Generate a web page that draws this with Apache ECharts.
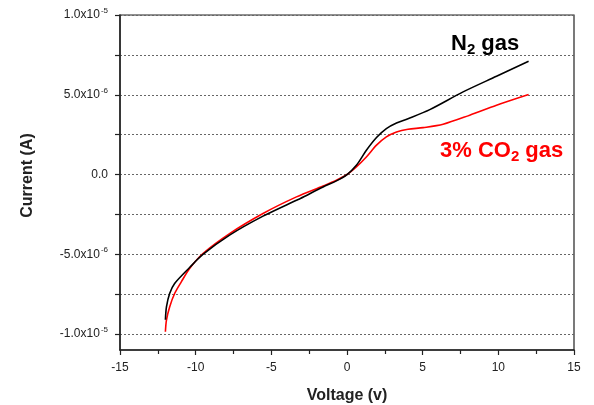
<!DOCTYPE html>
<html>
<head>
<meta charset="utf-8">
<script src="https://cdn.jsdelivr.net/npm/echarts@6/dist/echarts.min.js"></script>
<style>html,body{margin:0;padding:0;background:#fff;}#c{width:594px;height:405px;}</style>
</head>
<body>
<div id="c"></div>
<script>
// Voltage (V) and current (A)
const n2Voltage = [-12, -11.93, -11.72, -11.39, -10.4, -9.52, -7.76, -5.55, -3.34, -3.08, -1.58, -0.7, 0, 0.62, 1.28, 1.95, 2.6, 3.27, 4.03, 5.47, 7.67, 9.88, 12];
const n2Current = [-9.1e-6, -8.3e-6, -7.46e-6, -6.83e-6, -5.83e-6, -5.01e-6, -3.8e-6, -2.61e-6, -1.61e-6, -1.5e-6, -0.78e-6, -0.4e-6, 0, 0.58e-6, 1.52e-6, 2.32e-6, 2.88e-6, 3.23e-6, 3.5e-6, 4.07e-6, 5.18e-6, 6.16e-6, 7.1e-6];
const co2Voltage = [-12, -11.93, -11.72, -11.39, -10.95, -10.4, -9.52, -7.76, -5.55, -3.34, -1.58, -0.7, 0, 0.62, 1.28, 1.95, 2.6, 3.27, 4.03, 5.03, 6.35, 8.11, 9.88, 12];
const co2Current = [-9.86e-6, -9.13e-6, -8.3e-6, -7.46e-6, -6.73e-6, -5.89e-6, -4.95e-6, -3.7e-6, -2.44e-6, -1.4e-6, -0.72e-6, -0.36e-6, 0, 0.48e-6, 1.1e-6, 1.84e-6, 2.36e-6, 2.67e-6, 2.84e-6, 2.94e-6, 3.15e-6, 3.72e-6, 4.34e-6, 5.01e-6];
const yLabelValues = [-1e-5, -5e-6, 0, 5e-6, 1e-5];
const yTickValues = [-1e-5, -7.5e-6, -5e-6, -2.5e-6, 0, 2.5e-6, 5e-6, 7.5e-6, 1e-5];
const seriesNames = ['N2 gas', '3% CO2 gas'];

const zip = (xs, ys) => xs.map((x, i) => [x, ys[i]]);

function fmtY(v) {
  if (Math.abs(v) < 1e-12) return '{a|0.0}';
  const sign = v < 0 ? '-' : '';
  const a = Math.abs(v);
  const e = Math.floor(Math.log10(a) + 1e-9);
  const m = a / Math.pow(10, e);
  return '{a|' + sign + m.toFixed(1) + 'x10}{s|' + e + '}';
}

const chart = echarts.init(document.getElementById('c'));
const font = '"Liberation Sans", Arial, sans-serif';
chart.setOption({
  animation: false,
  backgroundColor: '#fff',
  textStyle: { fontFamily: font },
  grid: { left: 120, right: 20, top: 15, bottom: 55, outerBoundsMode: 'none', containLabel: false, show: true, borderColor: '#222', borderWidth: 1.2, backgroundColor: 'transparent' },
  xAxis: {
    type: 'value', min: -15, max: 15, interval: 5,
    name: 'Voltage (v)', nameLocation: 'middle', nameGap: 38,
    nameTextStyle: { fontSize: 16, fontWeight: 'bold', color: '#222', fontFamily: font },
    axisLine: { show: true, onZero: false, lineStyle: { color: '#222', width: 1.5 } },
    axisTick: { show: true, length: 5, lineStyle: { color: '#222', width: 1.2 } },
    minorTick: { show: true, splitNumber: 2, length: 4, lineStyle: { color: '#222', width: 1.2 } },
    axisLabel: { fontSize: 12, color: '#222', margin: 12, fontFamily: font },
    splitLine: { show: false }
  },
  yAxis: {
    type: 'value', min: -1.1e-5, max: 1e-5,
    name: 'Current (A)', nameLocation: 'middle', nameGap: 84, nameRotate: 90,
    nameTextStyle: { fontSize: 16, fontWeight: 'bold', color: '#222', fontFamily: font, padding: [0, 0, 0, 14] },
    axisLine: { show: true, onZero: false, lineStyle: { color: '#222', width: 1.5 } },
    axisTick: { show: true, length: 5, customValues: yTickValues, lineStyle: { color: '#222', width: 1.2 } },
    axisLabel: {
      customValues: yLabelValues, margin: 12, color: '#222',
      formatter: fmtY,
      rich: {
        a: { fontSize: 12, color: '#222', fontFamily: font, lineHeight: 16 },
        s: { fontSize: 8, color: '#222', fontFamily: font, verticalAlign: 'top', padding: [0, 0, 0, 1] }
      }
    },
    splitLine: { show: true, lineStyle: { color: '#666', type: [2, 2], width: 1 } }
  },
  series: [
    {
      name: seriesNames[0], type: 'line', data: zip(n2Voltage, n2Current),
      showSymbol: false, smooth: 0.3, z: 3,
      lineStyle: { color: '#000', width: 1.6 }
    },
    {
      name: seriesNames[1], type: 'line', data: zip(co2Voltage, co2Current),
      showSymbol: false, smooth: 0.3, z: 2,
      lineStyle: { color: '#ff0000', width: 1.6 }
    }
  ],
  graphic: [
    {
      type: 'text', left: 451, top: 33,
      style: {
        text: '{a|N}{s|2}{a| gas}',
        rich: {
          a: { fontSize: 22, fontWeight: 'bold', fill: '#000', fontFamily: font, lineHeight: 26 },
          s: { fontSize: 15, fontWeight: 'bold', fill: '#000', fontFamily: font, verticalAlign: 'bottom', lineHeight: 16 }
        }
      }
    },
    {
      type: 'text', left: 440, top: 140,
      style: {
        text: '{a|3% CO}{s|2}{a| gas}',
        rich: {
          a: { fontSize: 22, fontWeight: 'bold', fill: '#ff0000', fontFamily: font, lineHeight: 26 },
          s: { fontSize: 15, fontWeight: 'bold', fill: '#ff0000', fontFamily: font, verticalAlign: 'bottom', lineHeight: 16 }
        }
      }
    }
  ]
});
</script>
</body>
</html>
